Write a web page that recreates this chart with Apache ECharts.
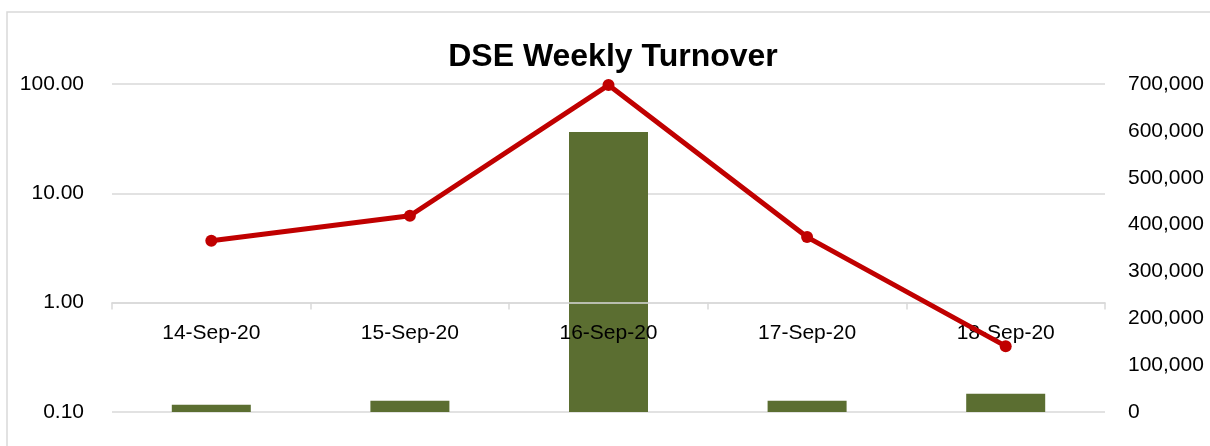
<!DOCTYPE html>
<html>
<head>
<meta charset="utf-8">
<script src="https://cdn.jsdelivr.net/npm/echarts@6/dist/echarts.min.js"></script>
<style>
  html, body { margin: 0; padding: 0; background: #fff; }
  #chart { width: 1210px; height: 446px; }
</style>
</head>
<body>
<div id="chart"></div>
<script>
// categories
var days = ['14-Sep-20', '15-Sep-20', '16-Sep-20', '17-Sep-20', '18-Sep-20'];
// bars, right axis
var barValues = [15600, 24000, 597600, 24000, 39000];
// line, left log axis
var lineValues = [3.69, 6.24, 97.7, 3.98, 0.40];

var fontName = 'Liberation Sans';

var myChart = echarts.init(document.getElementById('chart'));
var option = {
  animation: false,
  title: {
    text: 'DSE Weekly Turnover',
    left: 608,
    textAlign: 'center',
    top: 36,
    textStyle: {
      fontFamily: fontName,
      fontWeight: 'bold',
      fontSize: 32,
      color: '#000'
    }
  },
  graphic: [{
    type: 'rect',
    shape: { x: 7, y: 12, width: 1220, height: 450 },
    style: { fill: 'none', stroke: '#D9D9D9', lineWidth: 1.5 },
    silent: true
  }],
  grid: {
    left: 112,
    right: 105,
    top: 84,
    bottom: 34
  },
  xAxis: {
    type: 'category',
    data: days,
    offset: -109.4,
    z: 5,
    axisLine: { lineStyle: { color: '#D9D9D9', width: 1.5 } },
    axisTick: { show: true, length: 7, lineStyle: { color: '#D9D9D9', width: 1.5 } },
    axisLabel: {
      margin: 20,
      color: '#000',
      fontFamily: fontName,
      fontSize: 21
    }
  },
  yAxis: [{
    type: 'log',
    logBase: 10,
    min: 0.1,
    max: 100,
    axisLine: { show: false },
    axisTick: { show: false },
    axisLabel: {
      margin: 28,
      color: '#000',
      fontFamily: fontName,
      fontSize: 21,
      formatter: function (v) { return v.toFixed(2); }
    },
    splitLine: { lineStyle: { color: '#D9D9D9', width: 1.5 } }
  }, {
    type: 'value',
    min: 0,
    max: 700000,
    interval: 100000,
    axisLine: { show: false },
    axisTick: { show: false },
    splitLine: { show: false },
    axisLabel: {
      margin: 23,
      color: '#000',
      fontFamily: fontName,
      fontSize: 21,
      formatter: function (v) { return String(v).replace(/\B(?=(\d{3})+(?!\d))/g, ','); }
    }
  }],
  series: [{
    name: 'Turnover',
    type: 'bar',
    yAxisIndex: 1,
    data: barValues,
    barWidth: 79,
    z: 2,
    itemStyle: { color: '#5B6E31' }
  }, {
    name: 'Volume',
    type: 'line',
    yAxisIndex: 0,
    data: lineValues,
    z: 6,
    symbol: 'circle',
    symbolSize: 12,
    lineStyle: { color: '#C00000', width: 5 },
    itemStyle: { color: '#C00000' }
  }]
};
myChart.setOption(option);
</script>
</body>
</html>
